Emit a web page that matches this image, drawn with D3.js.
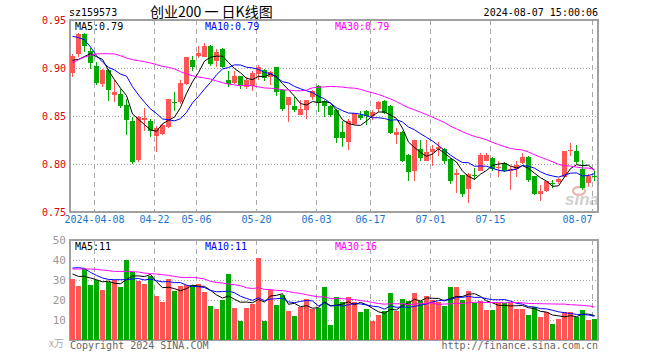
<!DOCTYPE html>
<html>
<head>
<meta charset="utf-8">
<script src="https://cdn.jsdelivr.net/npm/d3@7/dist/d3.min.js"></script>
<style>
body { margin: 0; background: #fff; }
</style>
</head>
<body>
<div id="chart"></div>
<script>
// trading days, 2024
const dates = ["03-29","04-01","04-02","04-03","04-08","04-09","04-10","04-11","04-12",
	"04-15","04-16","04-17","04-18","04-19","04-22","04-23","04-24","04-25","04-26",
	"04-29","04-30","05-06","05-07","05-08","05-09","05-10","05-13","05-14","05-15","05-16","05-17",
	"05-20","05-21","05-22","05-23","05-24","05-27","05-28","05-29","05-30","05-31",
	"06-03","06-04","06-05","06-06","06-07","06-11","06-12","06-13","06-14",
	"06-17","06-18","06-19","06-20","06-21","06-24","06-25","06-26","06-27","06-28",
	"07-01","07-02","07-03","07-04","07-05","07-08","07-09","07-10","07-11","07-12",
	"07-15","07-16","07-17","07-18","07-19","07-22","07-23","07-24","07-25","07-26",
	"07-29","07-30","07-31","08-01","08-02","08-05","08-06","08-07"];

const open = [0.894,0.914,0.935,0.918,0.902,0.883,0.898,0.872,0.873,0.861,
	0.845,0.804,0.8455,0.8445,0.829,0.8316,0.839,0.8645,0.864,0.883,
	0.9087,0.9128,0.912,0.9232,0.9076,0.920,0.8878,0.8844,0.8913,0.8809,
	0.8809,0.893,0.8982,0.8903,0.9007,0.8774,0.8611,0.860,0.8517,0.8566,
	0.8694,0.8816,0.866,0.860,0.8566,0.833,0.8226,0.8417,0.8514,0.8556,
	0.8497,0.8566,0.866,0.860,0.8299,0.8334,0.8098,0.7931,0.816,0.8035,
	0.8125,0.8149,0.816,0.8056,0.7883,0.7883,0.774,0.7887,0.7931,0.8035,
	0.8063,0.7952,0.8011,0.7931,0.7952,0.8011,0.807,0.7872,0.7688,0.7716,
	0.7806,0.7813,0.7872,0.8139,0.8139,0.7948,0.7803,0.7875];

const high = [0.915,0.936,0.936,0.921,0.906,0.899,0.899,0.888,0.878,0.868,
	0.849,0.850,0.858,0.847,0.840,0.842,0.868,0.8747,0.888,0.911,
	0.912,0.9225,0.926,0.9235,0.920,0.921,0.897,0.8965,0.892,0.891,
	0.8965,0.9027,0.899,0.8965,0.901,0.878,0.870,0.8694,0.867,0.867,
	0.8774,0.882,0.867,0.861,0.857,0.8445,0.8472,0.8534,0.8556,0.856,
	0.8566,0.866,0.867,0.861,0.8375,0.834,0.810,0.8254,0.8254,0.8254,
	0.8195,0.823,0.817,0.806,0.795,0.789,0.7907,0.7959,0.8115,0.8115,
	0.807,0.8028,0.802,0.7976,0.8035,0.8115,0.808,0.7875,0.7785,0.782,
	0.7837,0.7855,0.8139,0.822,0.8195,0.8045,0.7896,0.7924];

const low = [0.891,0.911,0.917,0.899,0.882,0.880,0.866,0.865,0.858,0.830,
	0.800,0.802,0.834,0.828,0.813,0.830,0.838,0.8556,0.863,0.882,
	0.8965,0.9104,0.911,0.9017,0.9007,0.900,0.880,0.8833,0.8785,0.878,
	0.8757,0.888,0.886,0.8826,0.8705,0.8556,0.8434,0.8542,0.8507,0.8472,
	0.867,0.8542,0.8486,0.8486,0.8219,0.8174,0.815,0.841,0.8462,0.8403,
	0.8462,0.8542,0.852,0.8313,0.8209,0.8021,0.7827,0.7827,0.8028,0.8028,
	0.7976,0.808,0.800,0.7792,0.7699,0.7653,0.7594,0.7837,0.7924,0.803,
	0.793,0.786,0.7917,0.7733,0.786,0.800,0.7813,0.7674,0.7612,0.7709,
	0.7751,0.7792,0.787,0.808,0.800,0.7733,0.7757,0.7827];

const close = [0.912,0.935,0.923,0.905,0.884,0.898,0.877,0.875,0.861,0.8455,
	0.802,0.849,0.8476,0.834,0.8375,0.841,0.868,0.8635,0.884,0.911,
	0.9017,0.916,0.9232,0.9042,0.9166,0.9017,0.8833,0.8913,0.882,0.888,
	0.8948,0.9007,0.8896,0.8958,0.8747,0.8576,0.8694,0.8556,0.8576,0.867,
	0.8757,0.8636,0.8611,0.8507,0.8278,0.827,0.8445,0.8531,0.8486,0.8507,
	0.8542,0.8642,0.8531,0.8323,0.8334,0.8035,0.7917,0.8254,0.807,0.8125,
	0.816,0.8174,0.8035,0.7827,0.7907,0.7688,0.7896,0.7882,0.8098,0.8098,
	0.7952,0.7966,0.7931,0.7952,0.7993,0.807,0.7827,0.768,0.7716,0.782,
	0.7799,0.7848,0.8139,0.815,0.8028,0.775,0.7872,0.7865];

// volume, 万手
const volume = [30.65,27.15,35.5,27.65,29.8,25.15,29.0,30.15,26.65,40.15,
	33.8,29.65,28.15,32.15,21.8,19.15,30.65,24.65,26.8,27.3,
	27.65,28.15,24.15,17.15,15.65,19.8,33.15,16.15,9.65,16.15,
	18.15,41.15,9.65,25.0,17.65,22.3,14.65,12.15,16.3,20.65,
	15.65,16.0,26.3,7.65,21.3,18.8,21.3,18.8,13.8,15.65,
	9.65,12.65,14.65,23.65,14.65,20.65,19.3,23.65,19.3,22.15,
	20.0,18.8,17.15,26.3,26.3,20.15,24.65,18.3,19.65,15.15,
	15.15,18.3,18.3,18.3,15.65,15.65,12.65,16.3,11.3,14.0,
	8.15,10.65,14.0,14.0,11.3,15.15,10.15,10.65];

// MA values at the left edge (they depend on days before the window)
const priceMa5Head = [0.908,0.909,0.912,0.915];
const priceMa10Head = [0.933,0.9316,0.9295,0.9219,0.9128,0.9062,0.9007,0.8979,0.8937];
const priceMa30Head = [0.9052,0.9087,0.9114,0.9132,0.9146,0.9149,0.9149,0.9146,0.9128,0.9104,
	0.9087,0.9076,0.9066,0.9052,0.9035,0.9017,0.9007,0.899,0.8962,0.8937,
	0.892,0.8906,0.8896,0.8885,0.8865,0.8847,0.8833,0.8823,0.8816];
const volMa5Head = [33.0,31.8,31.8,31.0];
const volMa10Head = [36.0,36.15,35.8,33.8,32.3,31.0,30.3,30.15,30.15];
const volMa30Head = [35.5,35.5,35.5,35.5,35.3,35.0,34.65,34.3,34.3,34.3,
	34.15,34.0,33.5,33.15,33.0,32.65,32.3,31.8,31.3,31.3,
	31.3,31.0,30.5,29.3,28.8,28.5,28.0,27.65,27.15];

const priceTicks = [0.75,0.80,0.85,0.90,0.95];
const volTicks = [10,20,30,40,50];
const dateTicks = ["04-08","04-22","05-06","05-20","06-03","06-17","07-01","07-15","08-07"];

const priceLabels = ["MA5:0.79","MA10:0.79","MA30:0.79"];
const volLabels = ["MA5:11","MA10:11","MA30:16"];
const maColors = ["#000000","#0000ff","#ff00ff"];

const UP = "#ff5555", DOWN = "#00aa00";
const MONO = "'DejaVu Sans Mono', monospace";

const svg = d3.select("#chart").append("svg")
	.attr("width", 660)
	.attr("height", 360)
	.style("display", "block");

const x = d3.scaleBand().domain(dates).range([70, 597]).paddingInner(1 / 6).paddingOuter(0);
const bw = x.bandwidth();
const y = d3.scaleLinear().domain([0.75, 0.95]).range([212, 20]);
const yv = d3.scaleLinear().domain([0, 50]).range([340, 240]);

function movingAvg(vals, n, head) {
	return vals.map((v, i) => i < n - 1 ? head[i] : d3.mean(vals.slice(i - n + 1, i + 1)));
}

// header
svg.append("text").attr("x", 69).attr("y", 16)
	.style("font-family", MONO).style("font-size", "10px").text("sz159573");
svg.append("text").attr("x", 150).attr("y", 17)
	.style("font-family", "'Noto Sans CJK SC'").style("font-size", "14px").text("创业200 一 日K线图");
svg.append("text").attr("x", 598).attr("y", 16).attr("text-anchor", "end")
	.style("font-family", MONO).style("font-size", "10px").text("2024-08-07 15:00:06");

function grid(top, bottom, yScale, values) {
	const g = svg.append("g");
	g.selectAll("line.h").data(values).enter().append("line")
		.attr("x1", 70).attr("x2", 598)
		.attr("y1", d => Math.round(yScale(d)) + 0.5)
		.attr("y2", d => Math.round(yScale(d)) + 0.5)
		.attr("stroke", "#aaa").attr("stroke-dasharray", "1,2");
	g.selectAll("line.v").data(dateTicks).enter().append("line")
		.attr("x1", d => x(d) + 0.5).attr("x2", d => x(d) + 0.5)
		.attr("y1", top).attr("y2", bottom)
		.attr("stroke", "#aaa").attr("stroke-dasharray", "5,4");
	svg.append("rect")
		.attr("x", 70).attr("y", top).attr("width", 528).attr("height", bottom - top)
		.attr("fill", "none").attr("stroke", "#a0a0a0").attr("stroke-width", 2);
}

grid(20, 212, y, [0.80, 0.85, 0.90]);
grid(240, 340, yv, [10, 20, 30, 40]);

// sina watermark
const wm = svg.append("g").attr("opacity", 0.55);
wm.append("ellipse").attr("cx", 579).attr("cy", 191).attr("rx", 6).attr("ry", 4)
	.attr("fill", "none").attr("stroke", "#e07070").attr("stroke-width", 2);
wm.append("text").attr("x", 565).attr("y", 205)
	.style("font-family", "'Liberation Sans', sans-serif").style("font-size", "17px")
	.style("font-weight", "bold").style("font-style", "italic")
	.attr("fill", "#aaa").text("sina");

// candles
const idx = d3.range(dates.length);
const cg = svg.append("g");
cg.selectAll("line").data(idx).enter().append("line")
	.attr("x1", i => x(dates[i]) + 2.5).attr("x2", i => x(dates[i]) + 2.5)
	.attr("y1", i => Math.round(y(high[i])))
	.attr("y2", i => Math.round(y(low[i])))
	.attr("stroke", i => close[i] >= open[i] ? UP : DOWN);
cg.selectAll("rect").data(idx).enter().append("rect")
	.attr("x", i => x(dates[i]))
	.attr("width", bw)
	.attr("y", i => Math.round(y(Math.max(open[i], close[i]))))
	.attr("height", i => Math.max(1, Math.round(Math.abs(y(open[i]) - y(close[i])))))
	.attr("fill", i => close[i] >= open[i] ? UP : DOWN)
	.attr("shape-rendering", "crispEdges");

// volume bars
svg.append("g").selectAll("rect").data(idx).enter().append("rect")
	.attr("x", i => x(dates[i]))
	.attr("width", bw)
	.attr("y", i => Math.round(yv(volume[i])))
	.attr("height", i => 340 - Math.round(yv(volume[i])))
	.attr("fill", i => close[i] >= open[i] ? UP : DOWN)
	.attr("shape-rendering", "crispEdges");

// moving averages
const priceMas = [movingAvg(close, 5, priceMa5Head), movingAvg(close, 10, priceMa10Head), movingAvg(close, 30, priceMa30Head)];
const volMas = [movingAvg(volume, 5, volMa5Head), movingAvg(volume, 10, volMa10Head), movingAvg(volume, 30, volMa30Head)];

function drawMa(series, yScale) {
	const line = d3.line().x((d, i) => x(dates[i]) + 2.5).y(d => yScale(d));
	series.forEach((s, k) => {
		svg.append("path").datum(s).attr("d", line)
			.attr("fill", "none").attr("stroke", maColors[k]).attr("stroke-width", 1);
	});
}
drawMa(priceMas, y);
drawMa(volMas, yv);

// legends
const legX = [75, 205, 335];
priceLabels.forEach((t, k) => {
	svg.append("text").attr("x", legX[k]).attr("y", 29.5)
		.style("font-family", MONO).style("font-size", "10px").attr("fill", maColors[k]).text(t);
});
volLabels.forEach((t, k) => {
	svg.append("text").attr("x", legX[k]).attr("y", 250)
		.style("font-family", MONO).style("font-size", "10px").attr("fill", maColors[k]).text(t);
});

// axes
const ya = svg.append("g").attr("transform", "translate(70,0)")
	.call(d3.axisLeft(y).tickValues(priceTicks).tickSize(0).tickPadding(4).tickFormat(d3.format(".2f")));
ya.select(".domain").remove();
ya.selectAll("text").attr("fill", "#e00000").style("font-family", MONO).style("font-size", "10px");

const va = svg.append("g").attr("transform", "translate(70,0)")
	.call(d3.axisLeft(yv).tickValues(volTicks).tickSize(0).tickPadding(4));
va.select(".domain").remove();
va.selectAll("text").attr("fill", "#999").style("font-family", MONO).style("font-size", "11px");

const xa = svg.append("g").attr("transform", "translate(-2,213)")
	.call(d3.axisBottom(x).tickValues(dateTicks).tickSize(0).tickPadding(3)
		.tickFormat(d => d === "04-08" ? "2024-" + d : d));
xa.select(".domain").remove();
xa.selectAll("text").attr("fill", "#1874cd").style("font-family", MONO).style("font-size", "10px");
xa.selectAll("text").filter(d => d === "08-07").attr("text-anchor", "end").attr("x", 0);

svg.append("text").attr("x", 64).attr("y", 347).attr("text-anchor", "end")
	.style("font-family", "'Noto Sans CJK SC'").style("font-size", "10px").attr("fill", "#aaa").text("x万");

// footer
svg.append("text").attr("x", 70).attr("y", 349)
	.style("font-family", MONO).style("font-size", "10px").attr("fill", "#666").text("Copyright 2024 SINA.COM");
svg.append("text").attr("x", 598).attr("y", 349).attr("text-anchor", "end")
	.style("font-family", MONO).style("font-size", "10px").attr("fill", "#666").text("http://finance.sina.com.cn");
</script>
</body>
</html>
